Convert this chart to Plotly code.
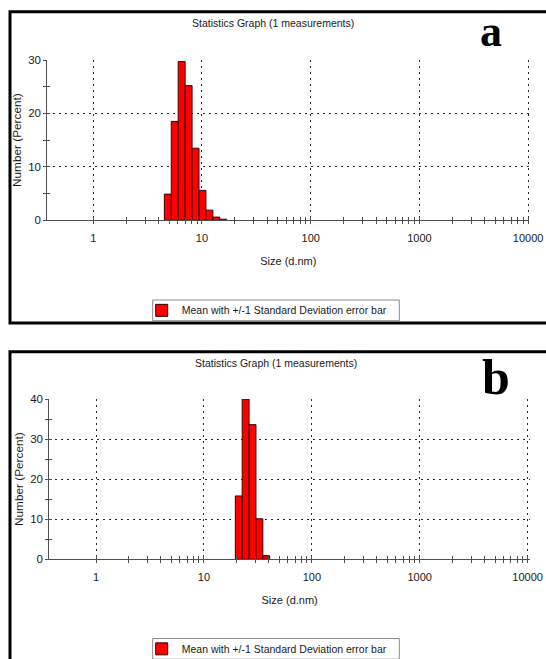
import math
import plotly.graph_objects as go

W, H = 546, 659

# ---------------- data ----------------
# size classes (d.nm, bin centres) and number percentages
size_a = [4.849, 5.615, 6.503, 7.531, 8.721, 10.10, 11.70, 13.54, 15.69]
number_a = [4.9, 18.5, 29.7, 25.2, 13.5, 5.6, 1.9, 0.6, 0.2]

size_b = [21.04, 24.36, 28.21, 32.67, 37.84]
number_b = [15.8, 40.0, 33.6, 10.1, 0.9]

x_tickvals = [1, 10, 100, 1000, 10000]
x_ticktext = ["1", "10", "100", "1000", "10000"]
x_minor = [d * 10 ** k for k in range(0, 4) for d in range(2, 10)]
y_ticks_a = [0, 10, 20, 30]
y_minor_a = [5, 15, 25]
y_ticks_b = [0, 10, 20, 30, 40]
y_minor_b = [5, 15, 25, 35]

legend_text = "Mean with +/-1 Standard Deviation error bar"
title_text = "Statistics Graph (1 measurements)"

BIN_RATIO = 1.1583  # ratio between successive size classes


def bar_geom(sizes):
    h = math.sqrt(BIN_RATIO)
    offsets = [s / h - s for s in sizes]
    widths = [s * h - s / h for s in sizes]
    return offsets, widths


FONT = "Liberation Sans, Arial, sans-serif"
TXT = "#1a1a1a"
AX = "#505050"
GRID = "#262626"
GRIDDASH = "2px,4px"


def fx(p):
    return p / W


def fy(p):
    return 1 - p / H


fig = go.Figure()

off_a, w_a = bar_geom(size_a)
off_b, w_b = bar_geom(size_b)

bar_marker = dict(color="#ff0000", line=dict(color="#3a0000", width=1))

fig.add_trace(go.Bar(x=size_a, y=number_a, offset=off_a, width=w_a,
                     marker=bar_marker, name=legend_text, legend="legend",
                     xaxis="x", yaxis="y"))
fig.add_trace(go.Bar(x=size_b, y=number_b, offset=off_b, width=w_b,
                     marker=bar_marker, name=legend_text, legend="legend2",
                     xaxis="x2", yaxis="y2"))
# empty traces to carry the overlay axes (inner halves of crossing ticks)
fig.add_trace(go.Scatter(x=[], y=[], xaxis="x3", yaxis="y3", showlegend=False, hoverinfo="skip"))
fig.add_trace(go.Scatter(x=[], y=[], xaxis="x4", yaxis="y4", showlegend=False, hoverinfo="skip"))


def xaxis_main(dom, rng, anchor):
    return dict(type="log", range=rng, domain=dom, anchor=anchor, automargin=False,
                tickmode="array", tickvals=x_tickvals, ticktext=x_ticktext,
                ticks="outside", ticklen=3, tickcolor=AX, tickwidth=1,
                minor=dict(tickmode="array", tickvals=x_minor, ticks="outside",
                           ticklen=3, tickcolor=AX, tickwidth=1, showgrid=False),
                showgrid=True, gridcolor=GRID, griddash=GRIDDASH, gridwidth=1,
                showline=True, linecolor=AX, linewidth=1, zeroline=False,
                tickfont=dict(family=FONT, size=11, color=TXT), ticklabelstandoff=4,
                title=dict(text="Size (d.nm)", font=dict(family=FONT, size=11, color=TXT), standoff=14),
                fixedrange=True)


def xaxis_over(over, rng, anchor):
    return dict(type="log", range=rng, overlaying=over, anchor=anchor, automargin=False,
                tickmode="array", tickvals=x_tickvals, showticklabels=False,
                ticks="inside", ticklen=3, tickcolor=AX, tickwidth=1,
                minor=dict(tickmode="array", tickvals=x_minor, ticks="inside",
                           ticklen=3, tickcolor=AX, tickwidth=1, showgrid=False),
                showgrid=False, showline=False, zeroline=False, fixedrange=True)


def yaxis_main(dom, rng, ticks, minor, anchor):
    return dict(range=rng, domain=dom, anchor=anchor, automargin=False,
                tickmode="array", tickvals=ticks,
                ticks="outside", ticklen=3, tickcolor=AX, tickwidth=1,
                minor=dict(tickmode="array", tickvals=minor, ticks="outside",
                           ticklen=3, tickcolor=AX, tickwidth=1, showgrid=False),
                showgrid=True, gridcolor=GRID, griddash=GRIDDASH, gridwidth=1,
                showline=True, linecolor=AX, linewidth=1, zeroline=False,
                tickfont=dict(family=FONT, size=11.5, color=TXT),
                title=dict(text="Number (Percent)", font=dict(family=FONT, size=11.8, color=TXT), standoff=4),
                fixedrange=True)


def yaxis_over(over, rng, ticks, minor, anchor):
    return dict(range=rng, overlaying=over, anchor=anchor, automargin=False,
                tickmode="array", tickvals=ticks, showticklabels=False,
                ticks="inside", ticklen=3, tickcolor=AX, tickwidth=1,
                minor=dict(tickmode="array", tickvals=minor, ticks="inside",
                           ticklen=3, tickcolor=AX, tickwidth=1, showgrid=False),
                showgrid=False, showline=False, zeroline=False, fixedrange=True)


rng_xa = [-0.423, 4.011]
rng_xb = [-0.433, 4.022]

# legend boxes (frame drawn as shapes to match the thin reference box)
LEG_A = (152.7, 399.3, 300.0, 320.7)
LEG_B = (152.7, 399.3, 638.5, 659.2)

legend_common = dict(xanchor="left", yanchor="middle", bgcolor="rgba(0,0,0,0)",
                     borderwidth=0,
                     font=dict(family=FONT, size=10.5, color=TXT),
                     itemwidth=30, indentation=-10, itemclick=False, itemdoubleclick=False)

fig.update_layout(
    template="none",
    width=W, height=H,
    margin=dict(l=0, r=0, t=0, b=0, autoexpand=False),
    paper_bgcolor="white", plot_bgcolor="white",
    barmode="overlay",
    xaxis=xaxis_main([fx(47.3), fx(529.3)], rng_xa, "y"),
    yaxis=yaxis_main([fy(220.3), fy(60)], [0, 30], y_ticks_a, y_minor_a, "x"),
    xaxis2=xaxis_main([fx(49.3), fx(530)], rng_xb, "y2"),
    yaxis2=yaxis_main([fy(559.3), fy(399)], [0, 40], y_ticks_b, y_minor_b, "x2"),
    xaxis3=xaxis_over("x", rng_xa, "y3"),
    yaxis3=yaxis_over("y", [0, 30], y_ticks_a, y_minor_a, "x3"),
    xaxis4=xaxis_over("x2", rng_xb, "y4"),
    yaxis4=yaxis_over("y2", [0, 40], y_ticks_b, y_minor_b, "x4"),
    legend=dict(x=fx(LEG_A[0] - 1), y=fy((LEG_A[2] + LEG_A[3]) / 2), **legend_common),
    legend2=dict(x=fx(LEG_B[0] - 1), y=fy((LEG_B[2] + LEG_B[3]) / 2), **legend_common),
    showlegend=True,
    shapes=[
        dict(type="rect", xref="paper", yref="paper", x0=fx(10), x1=1.05,
             y0=fy(323), y1=fy(11.7), line=dict(color="black", width=3), layer="above"),
        dict(type="rect", xref="paper", yref="paper", x0=fx(10), x1=1.05,
             y0=fy(664), y1=fy(351.7), line=dict(color="black", width=3), layer="above"),
        dict(type="rect", xref="paper", yref="paper", x0=fx(LEG_A[0]), x1=fx(LEG_A[1]),
             y0=fy(LEG_A[3]), y1=fy(LEG_A[2]), line=dict(color="#8a8a8a", width=1),
             fillcolor="white", layer="above"),
        dict(type="rect", xref="paper", yref="paper", x0=fx(LEG_B[0]), x1=fx(LEG_B[1]),
             y0=fy(LEG_B[3]), y1=fy(LEG_B[2]), line=dict(color="#8a8a8a", width=1),
             fillcolor="white", layer="above"),
    ],
    annotations=[
        dict(text=title_text, x=fx(273), y=fy(23.3), xref="paper", yref="paper",
             xanchor="center", yanchor="middle", showarrow=False,
             font=dict(family=FONT, size=10.5, color=TXT)),
        dict(text=title_text, x=fx(275.6), y=fy(363.3), xref="paper", yref="paper",
             xanchor="center", yanchor="middle", showarrow=False,
             font=dict(family=FONT, size=10.5, color=TXT)),
        dict(text="<b>a</b>", x=fx(491), y=fy(32), xref="paper", yref="paper",
             xanchor="center", yanchor="middle", showarrow=False,
             font=dict(family="Liberation Serif, Times New Roman, serif", size=44, color="black")),
        dict(text="<b>b</b>", x=fx(496), y=fy(377), xref="paper", yref="paper",
             xanchor="center", yanchor="middle", showarrow=False,
             font=dict(family="Liberation Serif, Times New Roman, serif", size=50, color="black")),
    ],
)

fig.write_html("out.html", config={"displayModeBar": False},
               post_script="document.body.style.margin='0px';document.body.style.overflow='hidden';")
